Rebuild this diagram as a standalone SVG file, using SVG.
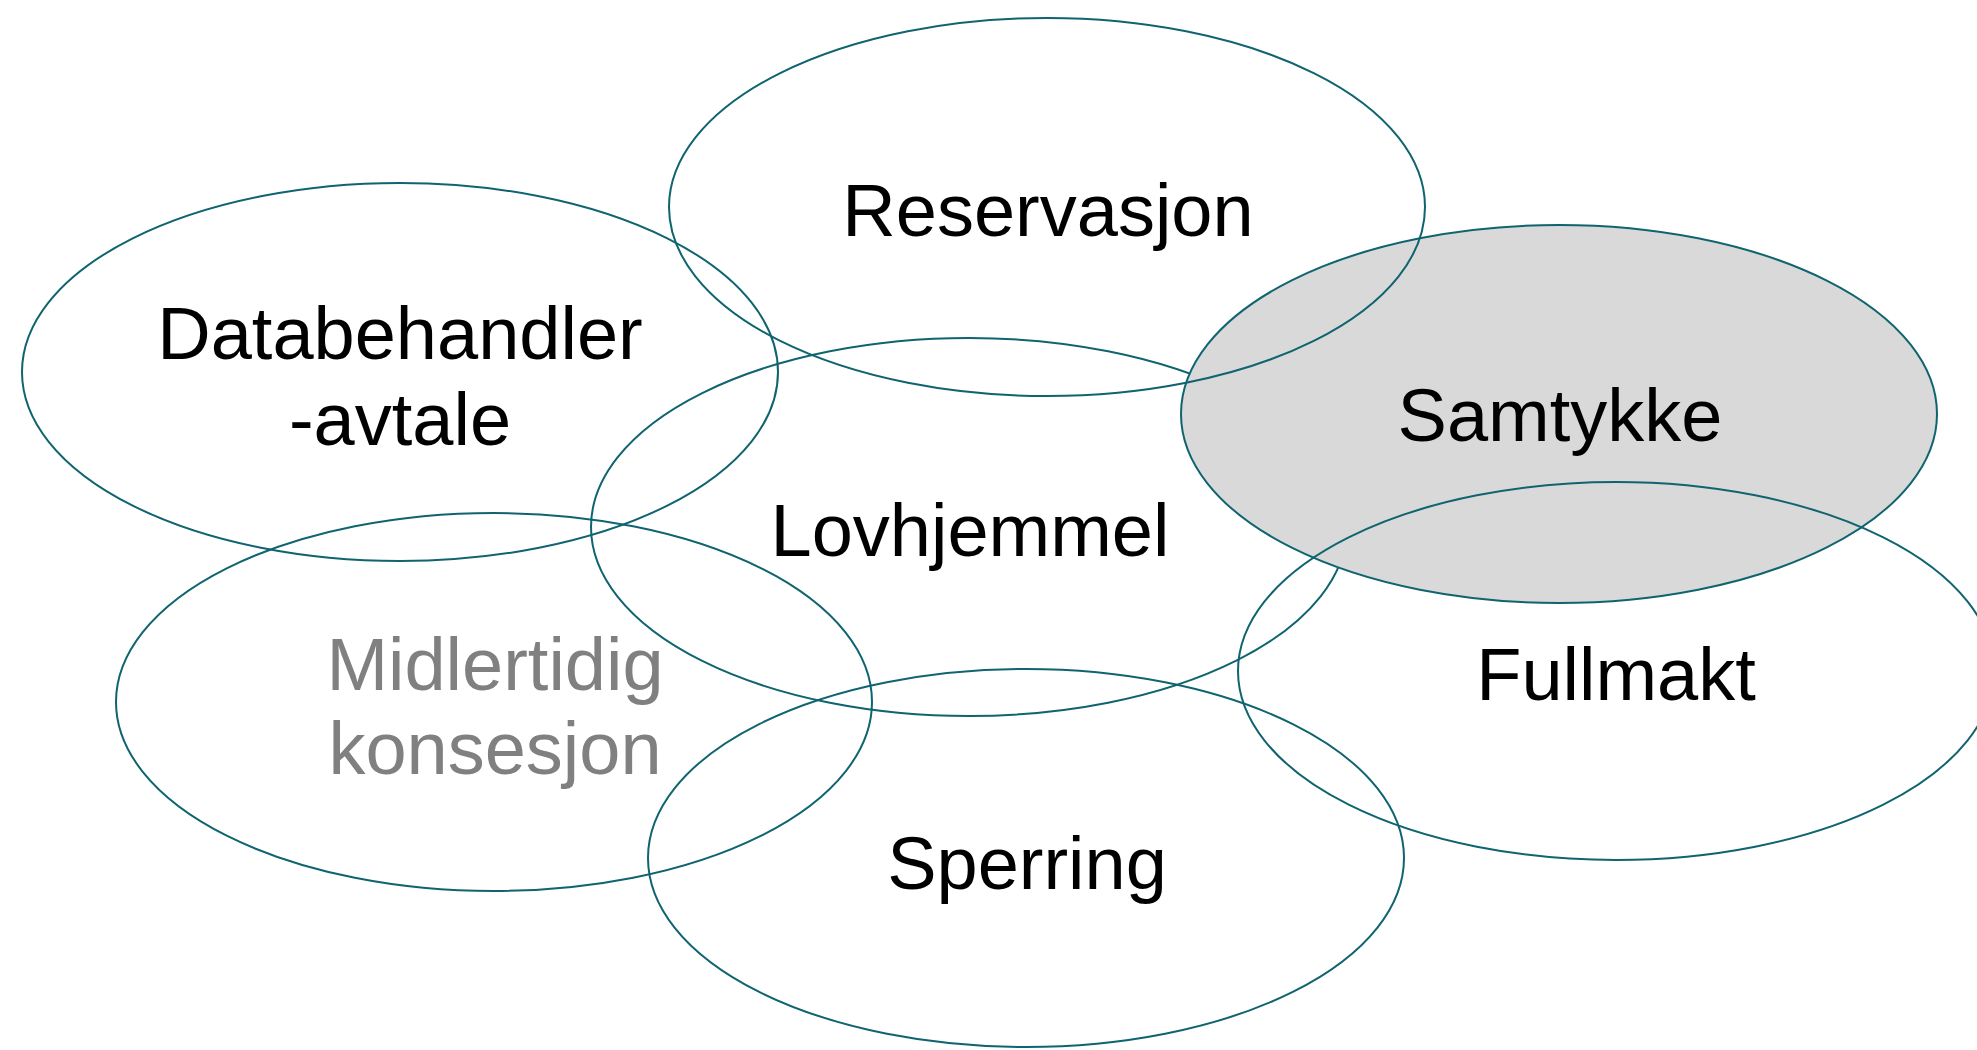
<svg xmlns="http://www.w3.org/2000/svg" width="1977" height="1050" viewBox="0 0 1977 1050">
  <style>
    .ring { fill: none; stroke: #0f6470; stroke-width: 2; }
    .ring.active { fill: #d9d9d9; }
    .label { font-family: "Liberation Sans", Arial, sans-serif; font-size: 74px; fill: #000000; text-anchor: middle; }
    .label.muted { fill: #808080; }
  </style>
  <rect width="1977" height="1050" fill="#ffffff"/>

  <!-- Overlapping ellipses, painted back to front -->
  <g id="connectors"/>

  <g id="node-databehandler">
    <ellipse class="ring" cx="400" cy="372" rx="378" ry="189"/>
    <text class="label" x="400" y="359">Databehandler</text>
    <text class="label" x="400" y="445">-avtale</text>
  </g>

  <g id="node-midlertidig">
    <ellipse class="ring" cx="494" cy="702" rx="378" ry="189"/>
    <text class="label muted" x="495" y="690">Midlertidig</text>
    <text class="label muted" x="495" y="774">konsesjon</text>
  </g>

  <g id="node-lovhjemmel">
    <ellipse class="ring" cx="969" cy="527" rx="378" ry="189"/>
    <text class="label" x="970" y="556">Lovhjemmel</text>
  </g>

  <g id="node-samtykke">
    <ellipse class="ring active" cx="1559" cy="414" rx="378" ry="189"/>
    <text class="label" x="1560" y="441">Samtykke</text>
  </g>

  <g id="node-reservasjon">
    <ellipse class="ring" cx="1047" cy="207" rx="378" ry="189"/>
    <text class="label" x="1048" y="236">Reservasjon</text>
  </g>

  <g id="node-fullmakt">
    <ellipse class="ring" cx="1616" cy="671" rx="378" ry="189"/>
    <text class="label" x="1616" y="700">Fullmakt</text>
  </g>

  <g id="node-sperring">
    <ellipse class="ring" cx="1026" cy="858" rx="378" ry="189"/>
    <text class="label" x="1027" y="889">Sperring</text>
  </g>
</svg>
